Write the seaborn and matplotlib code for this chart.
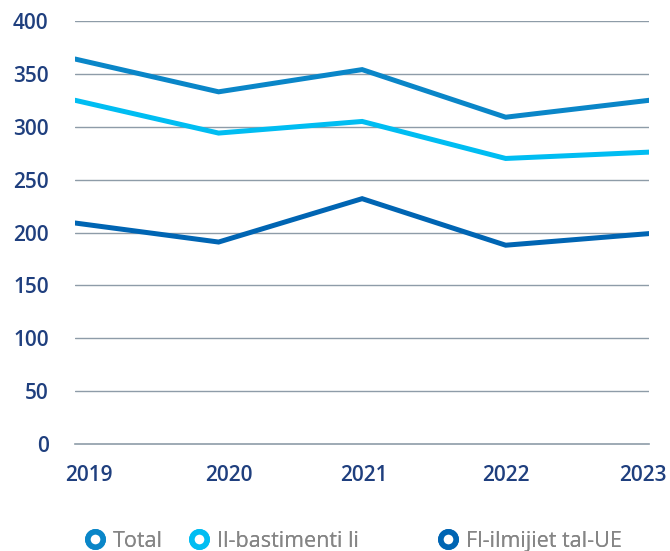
import pandas as pd
import numpy as np
import matplotlib.pyplot as plt
import matplotlib.transforms as mtransforms
import seaborn as sns
from matplotlib.lines import Line2D

# data
years = [2019, 2020, 2021, 2022, 2023]
total = [364, 333, 354, 309, 325]
bastimenti = [325, 294, 305, 270, 276]
ilmijiet_ue = [209, 191, 232, 188, 199]

series_names = ["Total", "Il-bastimenti li", "Fl-ilmijiet tal-UE"]
colors = ["#0a86c8", "#00bdf2", "#0065b3"]

df = pd.DataFrame({
    "year": years * 3,
    "value": total + bastimenti + ilmijiet_ue,
    "series": [s for s in series_names for _ in years],
})

sns.set_theme(style="white")
plt.rcParams['font.family'] = ['Open Sans', 'DejaVu Sans']

fig = plt.figure(figsize=(6.7, 5.51), dpi=100)
ax = fig.add_axes([0.112, 0.194, 0.857, 0.768])

sns.lineplot(data=df, x="year", y="value", hue="series", hue_order=series_names,
             palette=colors, linewidth=3.6, legend=False, ax=ax,
             solid_capstyle="round", solid_joinstyle="miter")

grid_col = "#8e9ca8"
ax.set_ylim(0, 400)
ax.set_xlim(years[0], years[-1])
ax.set_yticks(np.arange(0, 401, 50))
ax.set_xticks(years)
ax.set_xticklabels([str(y) for y in years])
for yv in np.arange(50, 401, 50):
    ax.axhline(yv, color=grid_col, lw=1.0, zorder=0)

for s in ["left", "right", "top"]:
    ax.spines[s].set_visible(False)
ax.spines["bottom"].set_color(grid_col)
ax.spines["bottom"].set_linewidth(1.2)

label_col = "#1f3f7e"
ax.tick_params(axis="y", length=0, pad=19, labelsize=15, labelcolor=label_col)
ax.tick_params(axis="x", length=9, width=1, color=grid_col, direction="out",
               pad=6, labelsize=15, labelcolor=label_col)
for lab in ax.get_xticklabels() + ax.get_yticklabels():
    lab.set_fontweight("semibold")

# year labels sit a little inward at both ends, as in the original
shifts_px = [14, 10, 2, 0, -6]
for lab, dx in zip(ax.get_xticklabels(), shifts_px):
    lab.set_transform(lab.get_transform() +
                      mtransforms.ScaledTranslation(dx / 100, 0, fig.dpi_scale_trans))
ax.set_xlabel("")
ax.set_ylabel("")

# one legend per item so the uneven spacing of the original can be kept
legend_x = [0.125, 0.281, 0.652]
for name, c, lx in zip(series_names, colors, legend_x):
    h = Line2D([], [], ls="none", marker="o", markersize=11,
               markerfacecolor="white", markeredgecolor=c, markeredgewidth=4)
    leg = fig.legend([h], [name], loc="center left", bbox_to_anchor=(lx, 0.018),
                     frameon=False, fontsize=15.5, labelcolor="#858585",
                     handletextpad=0.35, handlelength=1.0,
                     borderpad=0, borderaxespad=0)
    fig.add_artist(leg)

fig.savefig("out.png", dpi=100)
